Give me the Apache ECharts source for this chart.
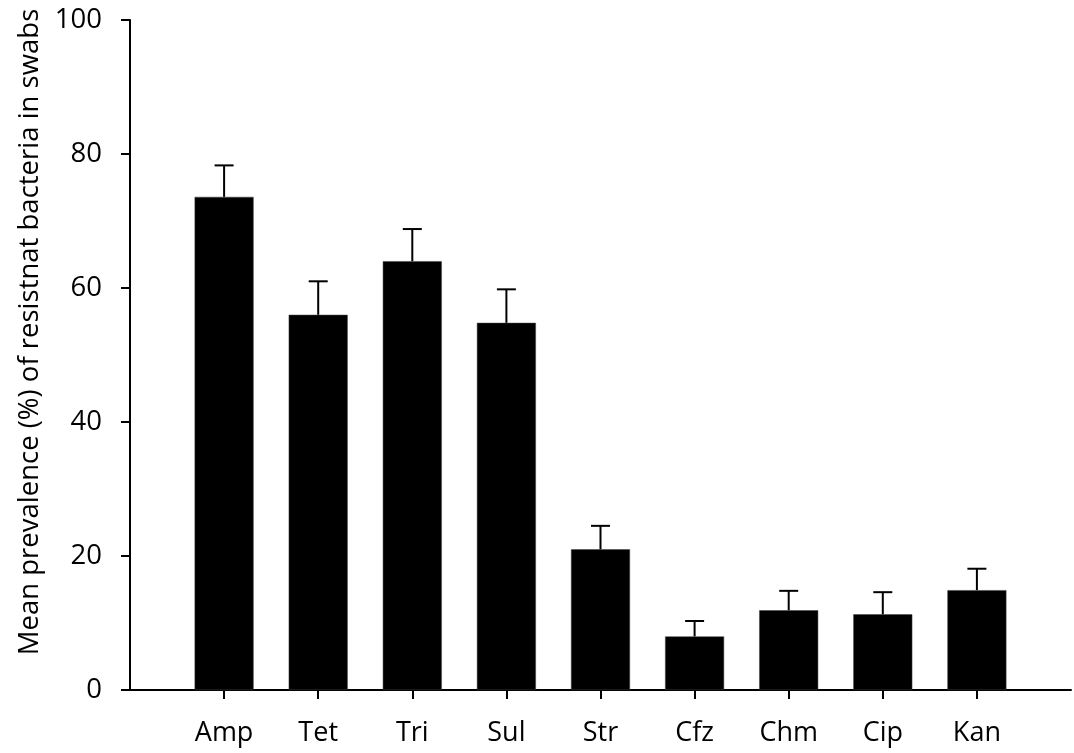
<!DOCTYPE html>
<html>
<head>
<meta charset="utf-8">
<script src="https://cdn.jsdelivr.net/npm/echarts@6/dist/echarts.min.js"></script>
<style>html,body{margin:0;padding:0;background:#fff}#c{width:1074px;height:753px}</style>
</head>
<body>
<div id="c"></div>
<script>
const categories = ['Amp', 'Tet', 'Tri', 'Sul', 'Str', 'Cfz', 'Chm', 'Cip', 'Kan'];
const means = [73.6, 56.0, 64.0, 54.8, 21.0, 8.0, 11.9, 11.3, 14.9];
const errors = [4.7, 5.0, 4.8, 5.0, 3.5, 2.3, 2.9, 3.3, 3.2];
const yTicks = [0, 20, 40, 60, 80, 100];
const yTitle = 'Mean prevalence (%) of resistnat bacteria in swabs';

const axisCats = [''].concat(categories, ['']);
const barData = [null].concat(means, [null]);
const errData = means.map((m, i) => [i + 1, m, m + errors[i]]);
const FONT = 'Open Sans';

const chart = echarts.init(document.getElementById('c'));
chart.setOption({
  animation: false,
  backgroundColor: '#fff',
  grid: { left: 130, right: 0, top: 20, bottom: 63, containLabel: false },
  xAxis: {
    type: 'category',
    data: axisCats,
    boundaryGap: false,
    axisLine: { lineStyle: { color: '#000', width: 2 } },
    axisTick: { show: true, length: 9, lineStyle: { color: '#000', width: 2 },
      interval: (i) => i > 0 && i < axisCats.length - 1 },
    axisLabel: { color: '#000', fontFamily: FONT, fontSize: 27, margin: 30,
      interval: 0 },
    splitLine: { show: false }
  },
  yAxis: {
    type: 'value',
    min: yTicks[0],
    max: yTicks[yTicks.length - 1],
    interval: yTicks[1] - yTicks[0],
    name: yTitle,
    nameLocation: 'middle',
    nameGap: 86,
    nameTextStyle: { color: '#000', fontFamily: FONT, fontSize: 27.5, padding: [0, 0, 0, 46] },
    axisLine: { show: true, lineStyle: { color: '#000', width: 2 } },
    axisTick: { show: true, length: 9, lineStyle: { color: '#000', width: 2 } },
    axisLabel: { color: '#000', fontFamily: FONT, fontSize: 27.5, margin: 28 },
    splitLine: { show: false }
  },
  series: [
    {
      type: 'bar',
      data: barData,
      barWidth: 59,
      itemStyle: { color: '#000', borderColor: '#444', borderWidth: 0.5 },
      z: 2
    },
    {
      type: 'custom',
      data: errData,
      encode: { x: 0, y: [1, 2] },
      z: 3,
      renderItem: function (params, api) {
        const base = api.coord([api.value(0), api.value(1)]);
        const top = api.coord([api.value(0), api.value(2)]);
        const half = 9.5;
        const style = { stroke: '#000', lineWidth: 2 };
        return {
          type: 'group',
          children: [
            { type: 'line', shape: { x1: base[0], y1: base[1], x2: top[0], y2: top[1] }, style: style },
            { type: 'line', shape: { x1: top[0] - half, y1: top[1], x2: top[0] + half, y2: top[1] }, style: style }
          ]
        };
      }
    }
  ]
});
</script>
</body>
</html>
